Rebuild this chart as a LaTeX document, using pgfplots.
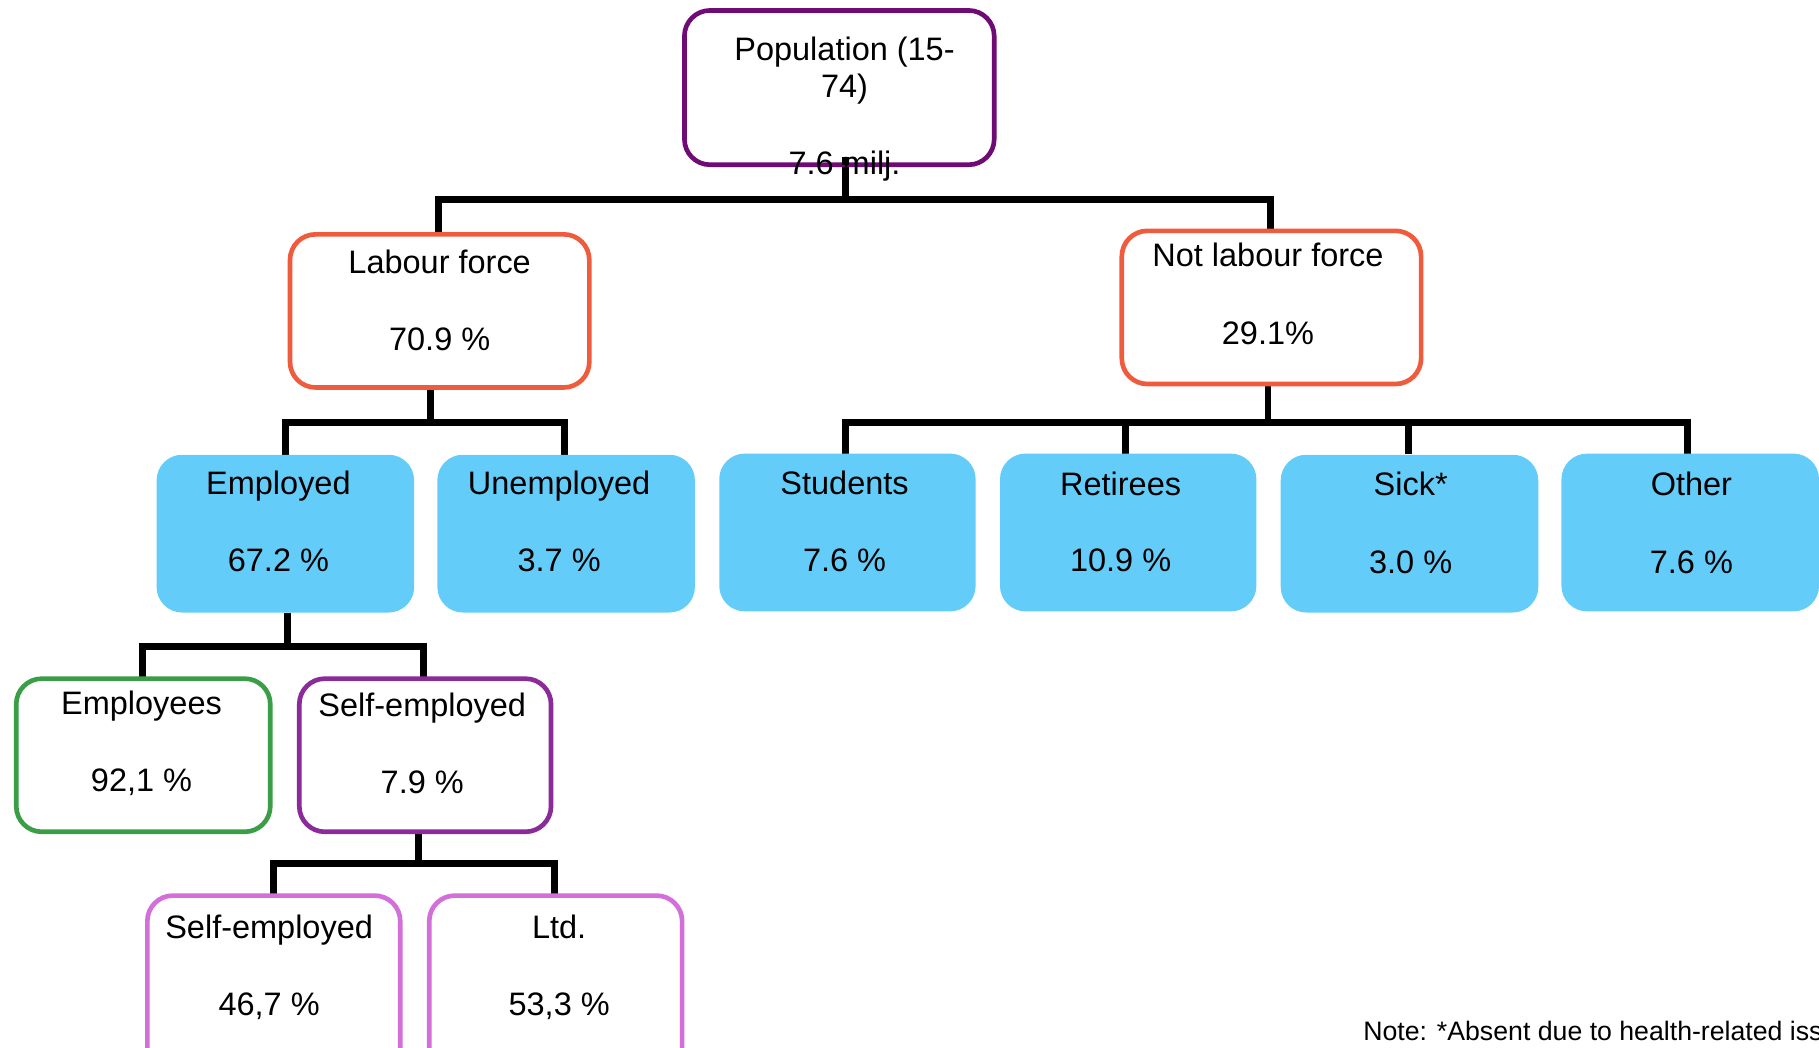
\documentclass[border=0pt]{standalone}
\usepackage{fontspec}
\setmainfont{Liberation Sans}
\usepackage{pgfplots}
\usepackage{pgfplotstable}
\pgfplotsset{compat=1.18}

\definecolor{toppurple}{HTML}{6E0B75}
\definecolor{lforange}{HTML}{EF5B3D}
\definecolor{catblue}{HTML}{64CCF9}
\definecolor{empgreen}{HTML}{3A9E47}
\definecolor{selfpurple}{HTML}{8B2A99}
\definecolor{subviolet}{HTML}{D36FD8}

% text lines: x, baseline y (pixels, y down)
\pgfplotstableread[col sep=comma]{
x,y,label
728,52,Population (15-
728,84,74)
728,150,7.6 milj.
379,236,Labour force
379,302,70.9 \%
1093,230,Not labour force
1093,297,29.1\%
240,426,Employed
240,493,67.2 \%
482,426,Unemployed
482,493,3.7 \%
728,426,Students
728,493,7.6 \%
966,427,Retirees
966,493,10.9 \%
1216,427,Sick*
1216,494,3.0 \%
1458,427,Other
1458,494,7.6 \%
122,616,Employees
122,682,{92,1 \%}
364,618,Self-employed
364,684,7.9 \%
232,809,Self-employed
232,875,{46,7 \%}
482,809,Ltd.
482,875,{53,3 \%}
}\labels

% rounded box: x1, x2, y1, y2, style
\newcommand{\orgbox}[5]{%
  \addplot[#5, line width=4pt, rounded corners=22pt]
    coordinates {(#1,#3) (#2,#3) (#2,#4) (#1,#4)} -- cycle;
}

\begin{document}
\begin{tikzpicture}
\useasboundingbox (0,0) rectangle (1568pt,903pt);
\begin{axis}[
    x=1pt, y=1pt, y dir=reverse,
    xmin=0, xmax=1568, ymin=0, ymax=903,
    hide axis, clip=false,
    anchor=south west, at={(0,0)},
  ]

  % connectors
  \addplot[black, line width=6pt] coordinates {(729,142) (729,172)};
  \addplot[black, line width=6pt] coordinates {(378,202) (378,172) (1095,172) (1095,199)};
  \addplot[black, line width=6pt] coordinates {(371,334) (371,364)};
  \addplot[black, line width=6pt] coordinates {(246,392) (246,364) (487,364) (487,392)};
  \addplot[black, line width=6pt] coordinates {(1093,331) (1093,364)};
  \addplot[black, line width=6pt] coordinates {(729,391) (729,364) (1455,364) (1455,391)};
  \addplot[black, line width=6pt] coordinates {(970,364) (970,391)};
  \addplot[black, line width=6pt] coordinates {(1214,364) (1214,391)};
  \addplot[black, line width=6pt] coordinates {(248,528) (248,557)};
  \addplot[black, line width=6pt] coordinates {(123,585) (123,557) (365,557) (365,585)};
  \addplot[black, line width=6pt] coordinates {(361,717) (361,744)};
  \addplot[black, line width=6pt] coordinates {(236,772) (236,744) (478,744) (478,772)};

  % boxes
  \orgbox{590}{857}{9}{142}{draw=toppurple, fill=white}
  \orgbox{250}{508}{202}{334}{draw=lforange, fill=white}
  \orgbox{967}{1225}{199}{331}{draw=lforange, fill=white}
  \orgbox{135}{357}{392}{528}{draw=none, fill=catblue}
  \orgbox{377}{599}{392}{528}{draw=none, fill=catblue}
  \orgbox{620}{841}{391}{527}{draw=none, fill=catblue}
  \orgbox{862}{1083}{391}{527}{draw=none, fill=catblue}
  \orgbox{1104}{1326}{392}{528}{draw=none, fill=catblue}
  \orgbox{1346}{1568}{391}{527}{draw=none, fill=catblue}
  \orgbox{14}{233}{585}{717}{draw=empgreen, fill=white}
  \orgbox{258}{475}{585}{717}{draw=selfpurple, fill=white}
  \orgbox{127}{345}{772}{930}{draw=subviolet, fill=white}
  \orgbox{370}{588}{772}{930}{draw=subviolet, fill=white}

  % the stub that runs into the top box, as in the source
  \addplot[black, line width=6pt] coordinates {(729,135) (729,142)};

  % texts
  \addplot[only marks, mark size=0pt, nodes near coords, point meta=explicit symbolic,
    nodes near coords align=center,
    every node near coord/.append style={anchor=base, inner sep=0pt,
      font=\fontsize{28}{34}\selectfont, text=black}]
    table[x=x, y=y, meta=label] {\labels};

  \addplot[only marks, mark size=0pt, nodes near coords, point meta=explicit symbolic,
    nodes near coords align=center,
    every node near coord/.append style={anchor=base west, inner sep=0pt,
      font=\fontsize{23}{28}\selectfont, text=black}]
    table[meta=label, col sep=comma] {
x,y,label
1175,897,Note: *Absent due to health-related issues
};
\end{axis}
\end{tikzpicture}
\end{document}
